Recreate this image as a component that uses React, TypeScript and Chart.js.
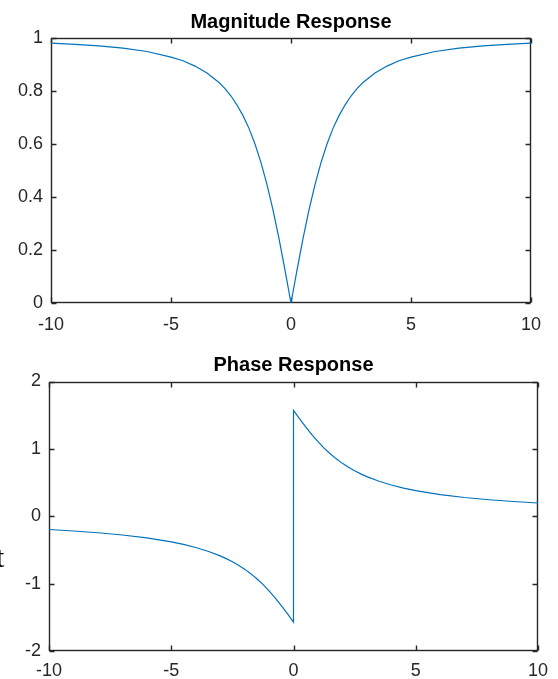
import React, { useEffect, useRef } from "react";
import { Chart, registerables } from "chart.js";

Chart.register(...registerables);

// ---- data ----
const frequency = [
  -10, -9, -8, -7, -6, -5, -4.5, -4, -3.5, -3, -2.75, -2.5, -2.25, -2, -1.75, -1.5, -1.25, -1, -0.75, -0.5, -0.25,
  0,
  0.25, 0.5, 0.75, 1, 1.25, 1.5, 1.75, 2, 2.25, 2.5, 2.75, 3, 3.5, 4, 4.5, 5, 6, 7, 8, 9, 10,
];
const magnitude = [
  0.981, 0.976, 0.970, 0.962, 0.949, 0.928, 0.914, 0.894, 0.868, 0.832, 0.809, 0.781, 0.747, 0.707, 0.659, 0.600, 0.530, 0.447, 0.351, 0.243, 0.124,
  0,
  0.124, 0.243, 0.351, 0.447, 0.530, 0.600, 0.659, 0.707, 0.747, 0.781, 0.809, 0.832, 0.868, 0.894, 0.914, 0.928, 0.949, 0.962, 0.970, 0.976, 0.981,
];
const phaseFrequency = [
  -10, -9, -8, -7, -6, -5, -4.5, -4, -3.5, -3, -2.75, -2.5, -2.25, -2, -1.75, -1.5, -1.25, -1, -0.75, -0.5, -0.25,
  0, 0,
  0.25, 0.5, 0.75, 1, 1.25, 1.5, 1.75, 2, 2.25, 2.5, 2.75, 3, 3.5, 4, 4.5, 5, 6, 7, 8, 9, 10,
];
const phase = [
  -0.197, -0.219, -0.245, -0.278, -0.322, -0.381, -0.418, -0.464, -0.519, -0.588, -0.629, -0.675, -0.727, -0.785, -0.852, -0.927, -1.012, -1.107, -1.212, -1.326, -1.446,
  -1.571, 1.571,
  1.446, 1.326, 1.212, 1.107, 1.012, 0.927, 0.852, 0.785, 0.727, 0.675, 0.629, 0.588, 0.519, 0.464, 0.418, 0.381, 0.322, 0.278, 0.245, 0.219, 0.197,
];
const xTicks = [-10, -5, 0, 5, 10];
const magTicks = [0, 0.2, 0.4, 0.6, 0.8, 1];
const phaseTicks = [-2, -1, 0, 1, 2];
const magTitle = "Magnitude Response";
const phaseTitle = "Phase Response";
const strayLabel = "t";

const AXIS_COLOR = "#262626";
const LINE_COLOR = "#0072BD";
const FONT_FAMILY = '"Liberation Sans", Arial, Helvetica, sans-serif';

const framePlugin = {
  id: "frame",
  beforeDatasetsDraw(chart: any, _args: any, opts: any) {
    const { ctx, chartArea: a, scales } = chart;
    ctx.save();
    ctx.strokeStyle = AXIS_COLOR;
    ctx.lineWidth = 1.4;
    const L = Math.round(a.left) + 0.5;
    const R = Math.round(a.right) - 0.5;
    const T = Math.round(a.top) + 0.5;
    const B = Math.round(a.bottom) - 0.5;
    ctx.strokeRect(L, T, R - L, B - T);
    const tl = 5;
    ctx.beginPath();
    for (const v of opts.xTicks) {
      const px = Math.round(scales.x.getPixelForValue(v)) + 0.5;
      ctx.moveTo(px, B);
      ctx.lineTo(px, B - tl);
      ctx.moveTo(px, T);
      ctx.lineTo(px, T + tl);
    }
    for (const v of opts.yTicks) {
      const py = Math.round(scales.y.getPixelForValue(v)) + 0.5;
      ctx.moveTo(L, py);
      ctx.lineTo(L + tl, py);
      ctx.moveTo(R, py);
      ctx.lineTo(R - tl, py);
    }
    ctx.stroke();
    ctx.restore();
  },
  afterDraw(chart: any, _args: any, opts: any) {
    const { ctx, chartArea: a } = chart;
    ctx.save();
    ctx.font = `bold 20px ${FONT_FAMILY}`;
    ctx.fillStyle = "#000000";
    ctx.textAlign = "center";
    ctx.textBaseline = "alphabetic";
    ctx.fillText(opts.text, (a.left + a.right) / 2, opts.baseline);
    ctx.restore();
  },
};

const fmt = (v: any) => String(Math.round(Number(v) * 10) / 10);

function makeConfig(
  xs: number[],
  ys: number[],
  yMin: number,
  yMax: number,
  yStep: number,
  yTicks: number[],
  title: string,
  titleBaseline: number,
  padding: any,
  yWidth: number,
  xHeight: number,
  xPad: number,
  yPad: number
): any {
  return {
    type: "line",
    data: {
      datasets: [
        {
          data: xs.map((x, i) => ({ x, y: ys[i] })),
          borderColor: LINE_COLOR,
          borderWidth: 1.2,
          pointRadius: 0,
          tension: 0,
          fill: false,
        },
      ],
    },
    options: {
      responsive: false,
      animation: false,
      devicePixelRatio: 1,
      layout: { padding },
      plugins: {
        legend: { display: false },
        tooltip: { enabled: false },
        title: { display: false },
        frame: { text: title, baseline: titleBaseline, xTicks, yTicks },
      },
      scales: {
        x: {
          type: "linear",
          min: -10,
          max: 10,
          grid: { display: false, drawTicks: false },
          border: { display: false },
          ticks: {
            stepSize: 5,
            autoSkip: false,
            maxRotation: 0,
            padding: xPad,
            color: AXIS_COLOR,
            font: { family: FONT_FAMILY, size: 18 },
            callback: fmt,
          },
          afterFit: (s: any) => {
            s.height = xHeight;
          },
        },
        y: {
          type: "linear",
          min: yMin,
          max: yMax,
          grid: { display: false, drawTicks: false },
          border: { display: false },
          ticks: {
            stepSize: yStep,
            autoSkip: false,
            padding: yPad,
            color: AXIS_COLOR,
            font: { family: FONT_FAMILY, size: 18 },
            callback: fmt,
          },
          afterFit: (s: any) => {
            s.width = yWidth;
          },
        },
      },
    },
    plugins: [framePlugin],
  };
}

function PlotCanvas({ config, width, height, top }: any) {
  const ref = useRef<HTMLCanvasElement | null>(null);
  useEffect(() => {
    if (!ref.current) return;
    const chart = new Chart(ref.current, config);
    return () => chart.destroy();
  }, [config]);
  return (
    <canvas
      ref={ref}
      width={width}
      height={height}
      style={{ position: "absolute", left: 0, top, width, height, display: "block" }}
    />
  );
}

const magConfig = makeConfig(
  frequency, magnitude, 0, 1, 0.2, magTicks, magTitle, 28,
  { left: 0, top: 38, right: 27, bottom: 0 }, 51, 37, 11, 8
);
const phaseConfig = makeConfig(
  phaseFrequency, phase, -2, 2, 1, phaseTicks, phaseTitle, 30.5,
  { left: 0, top: 41.5, right: 20, bottom: 0 }, 49, 28, 9, 8
);

export default function App() {
  return (
    <div
      style={{
        position: "absolute",
        left: 0,
        top: 0,
        width: 558,
        height: 679,
        background: "#ffffff",
        overflow: "hidden",
      }}
    >
      <PlotCanvas config={magConfig} width={558} height={340} top={0} />
      <PlotCanvas config={phaseConfig} width={558} height={339} top={340} />
      <span
        style={{
          position: "absolute",
          left: -4,
          top: 540,
          fontFamily: '"Liberation Serif", "Times New Roman", serif',
          fontSize: 30,
          lineHeight: "34px",
          color: "#000000",
        }}
      >
        {strayLabel}
      </span>
    </div>
  );
}
